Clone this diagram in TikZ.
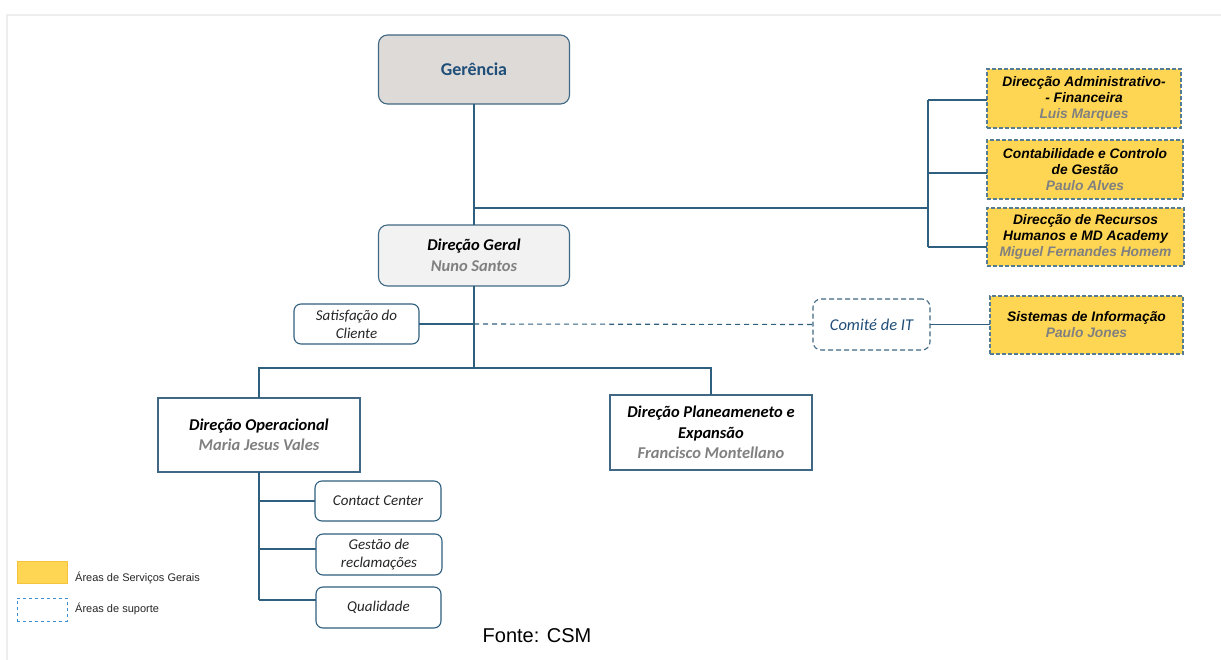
\documentclass[tikz,border=0pt]{standalone}
\usepackage{fontspec}
\setmainfont{Carlito}
\newfontfamily\arialfont{Liberation Sans}
\usepackage{tikz}
\usetikzlibrary{positioning}
\definecolor{linkblue}{RGB}{47,95,127}
\definecolor{boxline}{RGB}{64,104,132}
\definecolor{topgray}{RGB}{221,218,215}
\definecolor{softgray}{RGB}{242,242,242}
\definecolor{namegray}{RGB}{128,128,128}
\definecolor{titleblue}{RGB}{31,78,121}
\definecolor{svcyellow}{RGB}{255,214,83}
\definecolor{svcedge}{RGB}{245,196,60}
\definecolor{dashedge}{RGB}{86,124,148}
\definecolor{legblue}{RGB}{61,143,209}
\definecolor{framegray}{RGB}{238,238,238}
\tikzset{
  base/.style={inner sep=0pt,outer sep=0pt,align=center,line width=1.1pt},
  topbox/.style={base,rectangle,rounded corners=9pt,draw=boxline,fill=topgray,
              font={\fontsize{18}{21}\selectfont\bfseries},text=titleblue},
  headbox/.style={base,rectangle,rounded corners=9pt,draw=boxline,fill=softgray,
              font={\fontsize{16.5}{20.5}\selectfont\bfseries\itshape}},
  unit/.style={base,rectangle,draw=boxline,fill=white,
              font={\fontsize{16.5}{20.5}\selectfont\bfseries\itshape}},
  sub/.style={base,rectangle,rounded corners=7pt,draw=linkblue,fill=white,
              font={\fontsize{15}{18}\selectfont\itshape},text=black!85},
  support/.style={base,rectangle,rounded corners=8pt,draw=boxline,dash pattern=on 5pt off 3pt,
              fill=white,font={\fontsize{16.5}{19}\selectfont\itshape},text=titleblue},
  service/.style={base,rectangle,draw=dashedge,dash pattern=on 4pt off 2pt,fill=svcyellow,
              font={\arialfont\fontsize{13.8}{16}\selectfont\bfseries\itshape}},
  legtext/.style={inner sep=0pt,anchor=west,font={\arialfont\fontsize{11}{13}\selectfont},text=black!85},
  link/.style={draw=linkblue,line width=1.1pt},
}
\newcommand{\who}[1]{{\color{namegray}#1}}

\begin{document}
\begin{tikzpicture}[x=1pt,y=-1pt]
  \useasboundingbox (0,0) rectangle (1221,660);
  \draw[framegray,line width=2pt] (7,660) -- (7,15) -- (1221,15);

  % top levels
  \node[topbox,minimum width=191,minimum height=69] (ger) at (474,69.5) {Gerência};
  \node[headbox,minimum width=191,minimum height=61] (dgeral) at (474,255.5) {Direção Geral\\\who{Nuno Santos}};
  \node[sub,minimum width=125,minimum height=40] (satisf) at (356.5,324) {Satisfação do\\Cliente};
  \node[support,minimum width=117,minimum height=51] (comite) at (871.5,324.5) {Comité de IT};
  \node[service,minimum width=193,minimum height=58] (sisinfo) at (1086.5,325) {Sistemas de Informação\\\who{Paulo Jones}};

  % service areas
  \node[service,minimum width=194,minimum height=59] (daf) at (1084,98.5) {Direcção Administrativo-\\- Financeira\\\who{Luis Marques}};
  \node[service,minimum width=196,minimum height=59] (ccg) at (1085,169.5) {Contabilidade e Controlo\\de Gestão\\\who{Paulo Alves}};
  \node[service,minimum width=197,minimum height=58] (drh) at (1085.5,237) {Direcção de Recursos\\Humanos e MD Academy\\\who{Miguel Fernandes Homem}};

  % directions
  \node[unit,minimum width=202,minimum height=74] (dop) at (259,435) {Direção Operacional\\\who{Maria Jesus Vales}};
  \node[unit,minimum width=202,minimum height=75] (dpe) at (711,432.5) {Direção Planeameneto e\\Expansão\\\who{Francisco Montellano}};
  \node[sub,minimum width=126,minimum height=40] (cc) at (378,501) {Contact Center};
  \node[sub,minimum width=126,minimum height=41] (grecl) at (379,554.5) {Gestão de\\reclamações};
  \node[sub,minimum width=125,minimum height=41] (qual) at (378.5,607.5) {Qualidade};

  % legend
  \node[inner sep=0pt,minimum width=50,minimum height=22,fill=svcyellow,draw=svcedge,line width=0.8pt] (legsvc) at (42,572) {};
  \node[legtext] (legsvctxt) at (75,578) {Áreas de Serviços Gerais};
  \node[inner sep=0pt,minimum width=50,minimum height=23,draw=legblue,dashed,line width=0.8pt] (legsup) at (42,609.5) {};
  \node[legtext] (legsuptxt) at (75,609) {Áreas de suporte};
  \node[inner sep=0pt,font={\arialfont\fontsize{20}{23}\selectfont}] (fonte) at (537,636) {Fonte: CSM};

  % connectors
  \coordinate (jr) at (474,208);
  \coordinate (bus) at (928,208);
  \coordinate (sx) at (474,324);
  \coordinate (hb) at (474,368);
  \draw[link] (ger.south) -- (dgeral.north);
  \draw[link] (jr) -- (bus);
  \draw[link] (bus |- 0,100) -- (bus |- 0,247);
  \draw[link] (bus |- 0,100) -- (daf.west |- 0,100);
  \draw[link] (bus |- 0,173) -- (ccg.west |- 0,173);
  \draw[link] (bus |- 0,247) -- (drh.west |- 0,247);
  \draw[link] (dgeral.south) -- (hb);
  \draw[link] (satisf.east) -- (sx);
  \draw[link,dash pattern=on 5pt off 4pt] (sx) -- (comite.west);
  \draw[link] (comite.east) -- (sisinfo.west |- comite.east);
  \draw[link] (dop.north) |- (hb) -| (dpe.north);
  \draw[link] (dop.south) -- (dop.south |- 0,600);
  \draw[link] (dop.south |- cc.west) -- (cc.west);
  \draw[link] (dop.south |- 0,549) -- (grecl.west |- 0,549);
  \draw[link] (dop.south |- 0,600) -- (qual.west |- 0,600);
\end{tikzpicture}
\end{document}
